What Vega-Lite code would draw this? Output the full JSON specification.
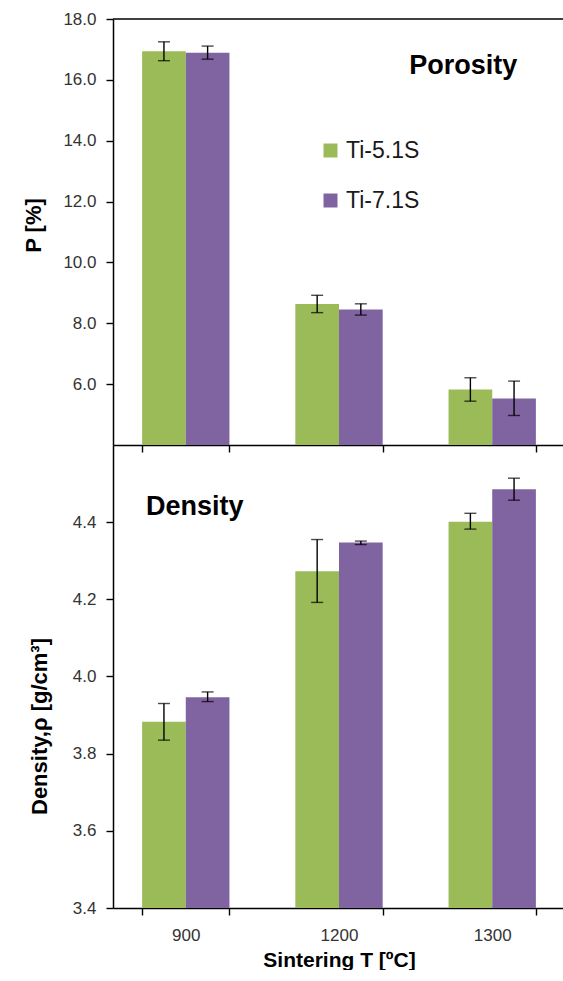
{
  "$schema": "https://vega.github.io/schema/vega-lite/v6.json",
  "padding": {"left": 22, "top": 10, "right": 0, "bottom": 0},
  "bounds": "flush",
  "spacing": 0,
  "datasets": {
    "porosity": [
      {"T": "900", "alloy": "Ti-5.1S", "value": 16.94, "lo": 16.63, "hi": 17.25},
      {"T": "900", "alloy": "Ti-7.1S", "value": 16.89, "lo": 16.68, "hi": 17.11},
      {"T": "1200", "alloy": "Ti-5.1S", "value": 8.63, "lo": 8.35, "hi": 8.92},
      {"T": "1200", "alloy": "Ti-7.1S", "value": 8.45, "lo": 8.27, "hi": 8.64},
      {"T": "1300", "alloy": "Ti-5.1S", "value": 5.82, "lo": 5.44, "hi": 6.21},
      {"T": "1300", "alloy": "Ti-7.1S", "value": 5.53, "lo": 4.97, "hi": 6.1}
    ],
    "density": [
      {"T": "900", "alloy": "Ti-5.1S", "value": 3.883, "lo": 3.835, "hi": 3.93},
      {"T": "900", "alloy": "Ti-7.1S", "value": 3.946, "lo": 3.935, "hi": 3.96},
      {"T": "1200", "alloy": "Ti-5.1S", "value": 4.273, "lo": 4.192, "hi": 4.355},
      {"T": "1200", "alloy": "Ti-7.1S", "value": 4.347, "lo": 4.342, "hi": 4.351},
      {"T": "1300", "alloy": "Ti-5.1S", "value": 4.401, "lo": 4.382, "hi": 4.423},
      {"T": "1300", "alloy": "Ti-7.1S", "value": 4.485, "lo": 4.457, "hi": 4.514}
    ],
    "porLabel": [{"T": "1300", "y": 16.46, "label": "Porosity"}],
    "denLabel": [{"T": "900", "y": 4.439, "label": "Density"}],
    "topLine": [{"y": 18}]
  },
  "vconcat": [
    {
      "width": 452,
      "height": 426,
      "layer": [
        {
          "data": {"name": "porosity"},
          "mark": {"type": "bar", "clip": true},
          "encoding": {
            "x": {
              "field": "T", "type": "nominal", "sort": ["900", "1200", "1300"],
              "scale": {"paddingInner": 0.43, "paddingOuter": 0.19},
              "axis": {"labels": false, "title": null, "tickBand": "extent", "tickSize": 7}
            },
            "xOffset": {"field": "alloy", "type": "nominal", "sort": ["Ti-5.1S", "Ti-7.1S"]},
            "y": {
              "field": "value", "type": "quantitative",
              "scale": {"domain": [4, 18], "nice": false, "zero": false},
              "axis": {
                "values": [6, 8, 10, 12, 14, 16, 18], "format": ".1f",
                "title": "P [%]", "titleFontSize": 22, "titleFontWeight": "bold",
                "titleX": -68, "titleY": 206,
                "minExtent": 50, "maxExtent": 50, "titlePadding": 20, "grid": false
              }
            },
            "color": {
              "field": "alloy", "type": "nominal",
              "scale": {"domain": ["Ti-5.1S", "Ti-7.1S"], "range": ["#9BBB59", "#8064A2"]},
              "legend": {
                "title": null, "orient": "none", "legendX": 206, "legendY": 120,
                "symbolType": "square", "symbolSize": 196, "labelFontSize": 23,
                "labelColor": "#1a1a1a", "rowPadding": 26, "labelOffset": 4, "symbolStrokeWidth": 0
              }
            }
          }
        },
        {
          "data": {"name": "porosity"},
          "mark": {"type": "rule", "color": "black", "strokeWidth": 1.4},
          "encoding": {
            "x": {"field": "T", "type": "nominal", "sort": ["900", "1200", "1300"]},
            "xOffset": {"field": "alloy", "type": "nominal", "sort": ["Ti-5.1S", "Ti-7.1S"]},
            "y": {"field": "lo", "type": "quantitative"}, "y2": {"field": "hi"}
          }
        },
        {
          "data": {"name": "porosity"},
          "mark": {"type": "tick", "color": "black", "size": 12, "thickness": 1.4},
          "encoding": {
            "x": {"field": "T", "type": "nominal", "sort": ["900", "1200", "1300"]},
            "xOffset": {"field": "alloy", "type": "nominal", "sort": ["Ti-5.1S", "Ti-7.1S"]},
            "y": {"field": "lo", "type": "quantitative"}
          }
        },
        {
          "data": {"name": "porosity"},
          "mark": {"type": "tick", "color": "black", "size": 12, "thickness": 1.4},
          "encoding": {
            "x": {"field": "T", "type": "nominal", "sort": ["900", "1200", "1300"]},
            "xOffset": {"field": "alloy", "type": "nominal", "sort": ["Ti-5.1S", "Ti-7.1S"]},
            "y": {"field": "hi", "type": "quantitative"}
          }
        },
        {
          "data": {"name": "topLine"},
          "mark": {"type": "rule", "color": "black", "strokeWidth": 1.5},
          "encoding": {"y": {"field": "y", "type": "quantitative"}}
        },
        {
          "data": {"name": "porLabel"},
          "mark": {"type": "text", "fontSize": 27, "fontWeight": "bold", "dx": -29, "color": "black"},
          "encoding": {
            "x": {"field": "T", "type": "nominal", "sort": ["900", "1200", "1300"]},
            "y": {"field": "y", "type": "quantitative"},
            "text": {"field": "label"}
          }
        }
      ]
    },
    {
      "width": 452,
      "height": 463,
      "layer": [
        {
          "data": {"name": "density"},
          "mark": {"type": "bar", "clip": true},
          "encoding": {
            "x": {
              "field": "T", "type": "nominal", "sort": ["900", "1200", "1300"],
              "scale": {"paddingInner": 0.43, "paddingOuter": 0.19},
              "axis": {
                "title": "Sintering T [ºC]", "titleFontSize": 21, "titleFontWeight": "bold",
                "titlePadding": 6, "labelAngle": 0, "labelPadding": 12,
                "tickBand": "extent", "tickSize": 7
              }
            },
            "xOffset": {"field": "alloy", "type": "nominal", "sort": ["Ti-5.1S", "Ti-7.1S"]},
            "y": {
              "field": "value", "type": "quantitative",
              "scale": {"domain": [3.4, 4.6], "nice": false, "zero": false},
              "axis": {
                "values": [3.4, 3.6, 3.8, 4.0, 4.2, 4.4], "format": ".1f",
                "title": "Density,ρ  [g/cm³]", "titleFontSize": 22, "titleFontWeight": "bold",
                "titleX": -62, "titleY": 281,
                "minExtent": 50, "maxExtent": 50, "titlePadding": 20, "grid": false
              }
            },
            "color": {
              "field": "alloy", "type": "nominal",
              "scale": {"domain": ["Ti-5.1S", "Ti-7.1S"], "range": ["#9BBB59", "#8064A2"]},
              "legend": null
            }
          }
        },
        {
          "data": {"name": "density"},
          "mark": {"type": "rule", "color": "black", "strokeWidth": 1.4},
          "encoding": {
            "x": {"field": "T", "type": "nominal", "sort": ["900", "1200", "1300"]},
            "xOffset": {"field": "alloy", "type": "nominal", "sort": ["Ti-5.1S", "Ti-7.1S"]},
            "y": {"field": "lo", "type": "quantitative"}, "y2": {"field": "hi"}
          }
        },
        {
          "data": {"name": "density"},
          "mark": {"type": "tick", "color": "black", "size": 12, "thickness": 1.4},
          "encoding": {
            "x": {"field": "T", "type": "nominal", "sort": ["900", "1200", "1300"]},
            "xOffset": {"field": "alloy", "type": "nominal", "sort": ["Ti-5.1S", "Ti-7.1S"]},
            "y": {"field": "lo", "type": "quantitative"}
          }
        },
        {
          "data": {"name": "density"},
          "mark": {"type": "tick", "color": "black", "size": 12, "thickness": 1.4},
          "encoding": {
            "x": {"field": "T", "type": "nominal", "sort": ["900", "1200", "1300"]},
            "xOffset": {"field": "alloy", "type": "nominal", "sort": ["Ti-5.1S", "Ti-7.1S"]},
            "y": {"field": "hi", "type": "quantitative"}
          }
        },
        {
          "data": {"name": "denLabel"},
          "mark": {"type": "text", "fontSize": 27, "fontWeight": "bold", "dx": 9, "color": "black"},
          "encoding": {
            "x": {"field": "T", "type": "nominal", "sort": ["900", "1200", "1300"]},
            "y": {"field": "y", "type": "quantitative"},
            "text": {"field": "label"}
          }
        }
      ]
    }
  ],
  "config": {
    "view": {"stroke": null},
    "font": "Liberation Sans",
    "axis": {
      "domainColor": "black", "domainWidth": 1.5, "tickColor": "black", "tickWidth": 1.4,
      "tickSize": 7, "labelPadding": 10,
      "labelFontSize": 17, "labelColor": "#333333", "titleColor": "black", "labelFont": "Liberation Sans",
      "titleFont": "Liberation Sans"
    }
  }
}
